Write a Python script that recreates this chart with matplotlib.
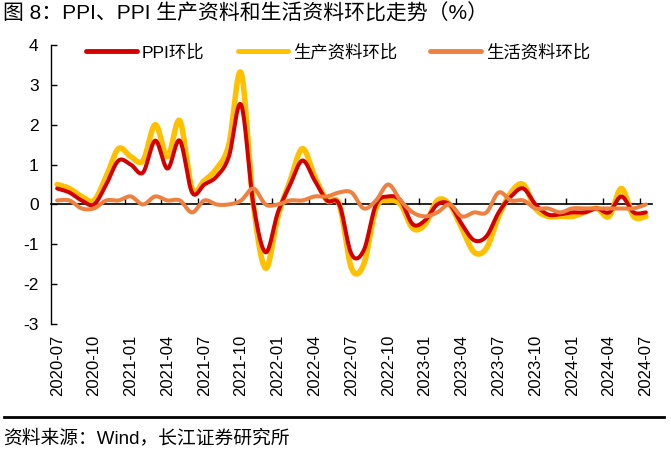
import matplotlib
matplotlib.use("Agg")
import matplotlib.pyplot as plt
from matplotlib.lines import Line2D
import numpy as np

plt.rcParams['font.family'] = ['Liberation Sans', 'Noto Sans CJK SC']
plt.rcParams['axes.unicode_minus'] = False

# ======= DATA =======
months = ["2020-07", "2020-08", "2020-09", "2020-10", "2020-11", "2020-12",
          "2021-01", "2021-02", "2021-03", "2021-04", "2021-05", "2021-06",
          "2021-07", "2021-08", "2021-09", "2021-10", "2021-11", "2021-12",
          "2022-01", "2022-02", "2022-03", "2022-04", "2022-05", "2022-06",
          "2022-07", "2022-08", "2022-09", "2022-10", "2022-11", "2022-12",
          "2023-01", "2023-02", "2023-03", "2023-04", "2023-05", "2023-06",
          "2023-07", "2023-08", "2023-09", "2023-10", "2023-11", "2023-12",
          "2024-01", "2024-02", "2024-03", "2024-04", "2024-05", "2024-06",
          "2024-07"]

ppi_mom = [0.4, 0.3, 0.1, 0.0, 0.5, 1.1,
           1.0, 0.8, 1.6, 0.9, 1.6, 0.3,
           0.5, 0.7, 1.2, 2.5, 0.0, -1.2,
           -0.2, 0.5, 1.1, 0.6, 0.1, 0.0,
           -1.25, -1.15, 0.0, 0.2, 0.1, -0.5,
           -0.4, 0.0, 0.0, -0.5, -0.9, -0.8,
           -0.2, 0.2, 0.4, 0.0, -0.25, -0.25,
           -0.2, -0.2, -0.1, -0.2, 0.2, -0.2,
           -0.2]

producer_mom = [0.5, 0.4, 0.2, 0.1, 0.7, 1.4,
                1.2, 1.1, 2.0, 1.2, 2.1, 0.4,
                0.6, 0.9, 1.5, 3.3, 0.0, -1.6,
                -0.3, 0.6, 1.4, 0.7, 0.1, 0.0,
                -1.6, -1.5, -0.1, 0.1, 0.0, -0.6,
                -0.5, 0.1, 0.0, -0.6, -1.2, -1.1,
                -0.3, 0.3, 0.5, -0.1, -0.3, -0.3,
                -0.3, -0.2, -0.1, -0.3, 0.4, -0.3,
                -0.3]

consumer_mom = [0.1, 0.1, -0.1, -0.1, 0.1, 0.1,
                0.2, 0.0, 0.2, 0.1, 0.1, -0.2,
                0.1, 0.0, 0.0, 0.1, 0.4, 0.0,
                0.0, 0.1, 0.1, 0.2, 0.2, 0.3,
                0.3, -0.1, 0.1, 0.5, 0.1, -0.2,
                -0.3, -0.2, 0.0, -0.3, -0.2, -0.2,
                0.3, 0.1, 0.1, -0.1, -0.1, -0.2,
                -0.1, -0.1, -0.1, -0.1, -0.1, -0.1,
                0.0]

series_names = ["PPI环比", "生产资料环比", "生活资料环比"]


def smooth(y, steps=24):
    """Catmull-Rom style smoothing, like a spreadsheet 'smoothed line'."""
    y = np.asarray(y, dtype=float)
    x = np.arange(len(y), dtype=float)
    px = np.concatenate([[x[0]], x, [x[-1]]])
    py = np.concatenate([[y[0]], y, [y[-1]]])
    xs, ys = [], []
    t = np.linspace(0, 1, steps, endpoint=False)
    for i in range(1, len(px) - 2):
        p0, p1, p2, p3 = (np.array([px[k], py[k]]) for k in (i - 1, i, i + 1, i + 2))
        c1 = p1 + (p2 - p0) / 6
        c2 = p2 - (p3 - p1) / 6
        b = ((1 - t) ** 3)[:, None] * p1 + (3 * (1 - t) ** 2 * t)[:, None] * c1 \
            + (3 * (1 - t) * t ** 2)[:, None] * c2 + (t ** 3)[:, None] * p2
        xs.append(b[:, 0])
        ys.append(b[:, 1])
    xs.append([x[-1]])
    ys.append([y[-1]])
    return np.concatenate(xs), np.concatenate(ys)


W, H = 671, 455
fig = plt.figure(figsize=(W / 100, H / 100), dpi=100)
ax = fig.add_axes([51 / W, 131 / H, 601 / W, 279 / H])

red = "#D40000"
gold = "#FFC000"
orange = "#EE8040"

sx, sy = smooth(producer_mom)
ax.plot(sx, sy, color=gold, lw=4.0, solid_capstyle="round", zorder=2, label=series_names[1])
sx, sy = smooth(ppi_mom)
ax.plot(sx, sy, color=red, lw=2.9, solid_capstyle="round", zorder=3, label=series_names[0])
sx, sy = smooth(consumer_mom)
ax.plot(sx, sy, color=orange, lw=2.9, solid_capstyle="round", zorder=4, label=series_names[2])

ax.set_xlim(-0.5, len(months) - 0.5)
ax.set_ylim(-3, 4)
ax.set_yticks(range(-3, 5))
ax.tick_params(axis="y", direction="in", length=4, width=1, labelsize=12.5, pad=9)

for s in ("top", "right", "bottom"):
    ax.spines[s].set_visible(False)
ax.spines["left"].set_linewidth(1)

ax.set_xticks(range(0, len(months), 3))
ax.set_xticklabels(months[::3], rotation=90, fontsize=12)
ax.tick_params(axis="x", length=0, pad=8)

# zero line carrying the small category tick marks
zero = ax.secondary_xaxis(3 / 7)
zero.set_xticks(np.arange(2.5, len(months), 3))
zero.tick_params(axis="x", direction="in", length=4, width=1, labelbottom=False)
zero.spines["bottom"].set_linewidth(1.2)
zero.spines["bottom"].set_zorder(1)

h, l = ax.get_legend_handles_labels()
order = [1, 0, 2]
leg = ax.legend([h[i] for i in order], [l[i] for i in order], loc="center",
                bbox_to_anchor=(0.478, 0.975), ncol=3, frameon=False, fontsize=12.5,
                handlelength=2.9, handletextpad=0.3, columnspacing=1.9)
for ln in leg.get_lines():
    ln.set_linewidth(3.5)

fig.text(3 / W, 1 - 14 / H, "图 8：PPI、PPI 生产资料和生活资料环比走势（%）",
         fontsize=15, va="center", ha="left")
fig.add_artist(Line2D([4 / W, 664 / W], [1 - 417 / H, 1 - 417 / H],
                      color="black", lw=2))
fig.text(3 / W, 1 - 438 / H, "资料来源：Wind，长江证券研究所",
         fontsize=13.5, va="center", ha="left")

fig.savefig("out.png", dpi=100)
